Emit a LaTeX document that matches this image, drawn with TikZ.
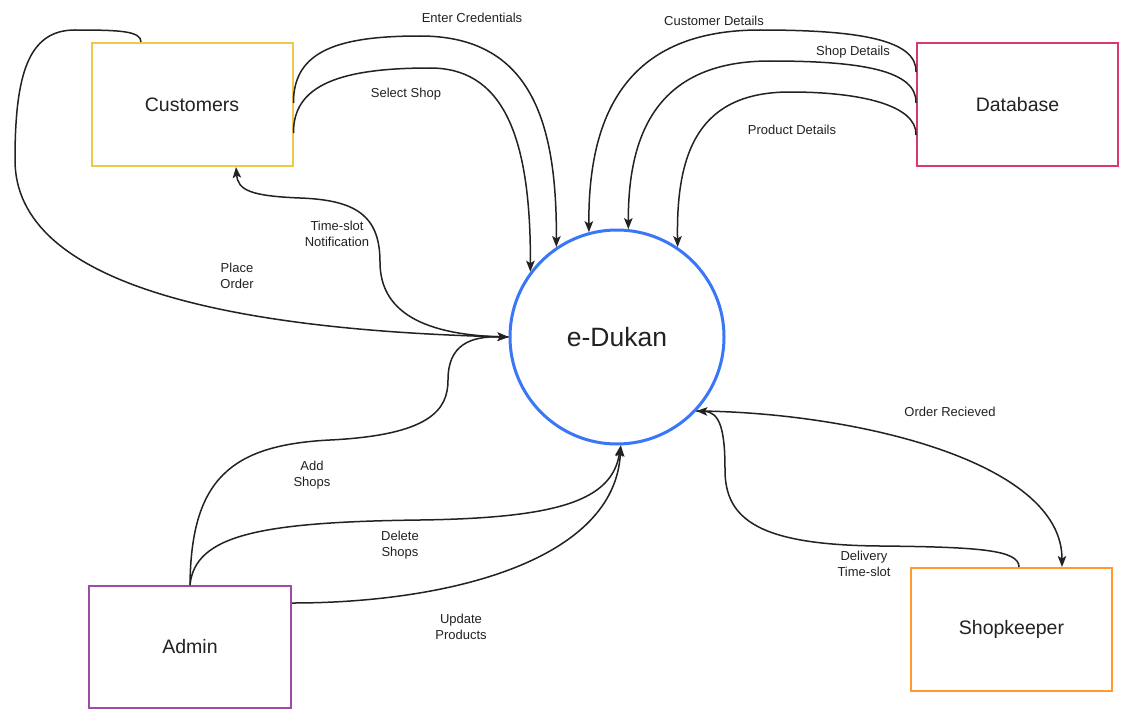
\documentclass[tikz,border=0pt]{standalone}
\usepackage{fontspec}
\setmainfont{Liberation Sans}
\usetikzlibrary{arrows.meta,calc}
\definecolor{custc}{HTML}{EEC84A}
\definecolor{dbc}{HTML}{D9386B}
\definecolor{admc}{HTML}{9B4DA6}
\definecolor{shopc}{HTML}{FF9A33}
\definecolor{edc}{HTML}{3A76F8}
\definecolor{ink}{HTML}{222222}
\begin{document}
\begin{tikzpicture}[x=1pt,y=-1pt,
  box/.style={draw, rectangle, line width=2pt, minimum width=201pt,
    minimum height=123pt, inner sep=0pt,
    font=\fontsize{19.5}{23}\selectfont, text=ink},
  flow/.style={line width=1.5pt, draw=ink,
    -{Stealth[length=11pt,width=8.5pt,inset=2.5pt]}},
  lbl/.style={font=\fontsize{13}{16.5}\selectfont, align=center,
    text=ink, inner sep=0pt}]

\fill[white] (0,0) rectangle (1121,709);
\useasboundingbox (0,0) rectangle (1121,709);

% entities and the central process
\node[box, draw=custc] (cust) at (192,104.5) {\raisebox{-1.5pt}{Customers}};
\node[box, draw=dbc]   (db)   at (1017.5,104.5) {\raisebox{-1.5pt}{Database}};
\node[box, draw=admc, minimum width=202pt, minimum height=122pt] (adm) at (190,647) {\raisebox{-1.5pt}{Admin}};
\node[box, draw=shopc] (shop) at (1011.5,629.5) {\raisebox{-1.5pt}{Shopkeeper}};
\node[circle, draw=edc, line width=3pt, minimum size=214pt, inner sep=0pt,
  font=\fontsize{26.5}{30}\selectfont, text=ink] (ed) at (617,337) {e-Dukan};

% customer flows
\draw[flow] ($(cust.north)+(-51,0)$) .. controls (141,31) and (120,30) .. (75,30)
  .. controls (28,30) and (15,75) .. (15,160)
  .. controls (15,285) and (230,330) .. (ed.180);
\draw[flow] (ed.180) .. controls (420,336) and (380,310) .. (380,262)
  .. controls (380,215) and (355,200) .. (300,198)
  .. controls (250,196) and (238,190) .. ($(cust.south)+(44,0)$);
\draw[flow] ($(cust.east)+(0,-1.5)$) .. controls (293,50) and (340,36) .. (420,36)
  .. controls (530,36) and (557,120) .. (ed.124);
\draw[flow] ($(cust.east)+(0,28.5)$) .. controls (293,85) and (340,68) .. (430,68)
  .. controls (500,68) and (531,130) .. (ed.143.5);

% database flows
\draw[flow] ($(db.west)+(0,-32.5)$) .. controls (917,40) and (860,30) .. (760,30)
  .. controls (630,30) and (588,110) .. (ed.105.7);
\draw[flow] ($(db.west)+(0,-1.5)$) .. controls (917,70) and (860,61) .. (770,61)
  .. controls (660,61) and (628,130) .. (ed.84);
\draw[flow] ($(db.west)+(0,30.5)$) .. controls (917,105) and (860,92) .. (790,92)
  .. controls (700,92) and (676,150) .. (ed.56.5);

% admin flows
\draw[flow] (adm.north) .. controls (191,480) and (230,445) .. (330,440)
  .. controls (430,435) and (448,410) .. (448,380)
  .. controls (448,345) and (470,336) .. (ed.180);
\draw[flow] (adm.north) .. controls (195,535) and (260,522) .. (420,520)
  .. controls (560,518) and (612,500) .. (ed.272);
\draw[flow] ($(adm.east)+(0,-44)$) .. controls (450,603) and (615,560) .. (ed.272);

% shopkeeper flows
\draw[flow] (ed.-43) .. controls (850,412) and (1062,460) .. ($(shop.north)+(50.5,0)$);
\draw[flow] ($(shop.north)+(7.5,0)$) .. controls (1019,550) and (980,547) .. (880,546)
  .. controls (760,545) and (725,520) .. (725,470)
  .. controls (725,430) and (720,412) .. (ed.-43);

% flow labels
\node[lbl] (lcred) at (472,18) {Enter Credentials};
\node[lbl] (lsel)  at (406,94) {Select Shop};
\node[lbl] (lnot)  at (337,234) {Time-slot\\Notification};
\node[lbl] (lord)  at (237,276) {Place\\Order};
\node[lbl] (lcd)   at (714,21) {Customer Details};
\node[lbl] (lsd)   at (853,52) {Shop Details};
\node[lbl] (lpd)   at (792,130) {Product Details};
\node[lbl] (ladd)  at (312,475) {Add\\Shops};
\node[lbl] (ldel)  at (400,545) {Delete\\Shops};
\node[lbl] (lupd)  at (461,627) {Update\\Products};
\node[lbl] (lrec)  at (950,412) {Order Recieved};
\node[lbl] (ldts)  at (864,564) {Delivery\\Time-slot};
\end{tikzpicture}
\end{document}
